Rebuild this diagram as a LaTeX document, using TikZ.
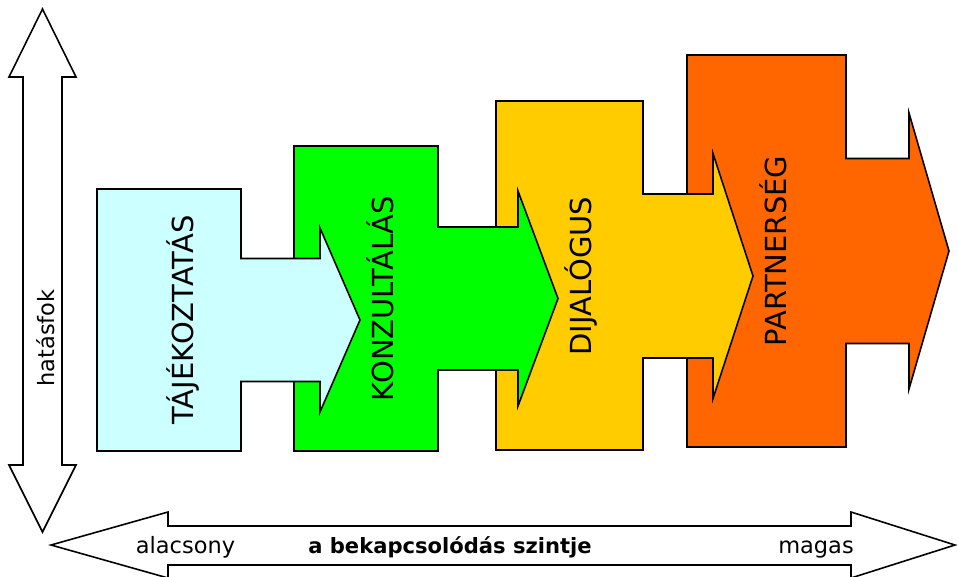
\documentclass[tikz,border=0pt]{standalone}
\usepackage{fontspec}
\setmainfont{DejaVu Sans}
\usepackage{xcolor}
\usepackage{tikz}

\definecolor{infocol}{HTML}{CCFFFF}
\definecolor{conscol}{HTML}{00FF00}
\definecolor{dialcol}{HTML}{FFCC00}
\definecolor{partcol}{HTML}{FF6600}

\begin{document}
\begin{tikzpicture}[
    x=0.02cm, y=-0.02cm,
    stage/.style    = {draw=black, line width=0.9pt, line join=miter},
    stagelbl/.style = {rotate=90, inner sep=0pt,
                       font=\fontsize{16.5}{16.5}\selectfont},
    axis/.style     = {draw=black, fill=white, line width=0.9pt},
    axislbl/.style  = {inner sep=0pt, anchor=base,
                       font=\fontsize{12.8}{12.8}\selectfont}
  ]
  \useasboundingbox (0,0) rectangle (958,576);

  % ----------------------------------------------------------------
  % Stages: block + arrow pointing right, drawn back to front
  % xl/xr = block sides, yt/yb = block top/bottom, xh = head base,
  % xt = tip, yc = axis, sh/hh = shaft and head half heights
  % ----------------------------------------------------------------
  \foreach \xl/\xr/\yt/\yb/\xh/\xt/\yc/\sh/\hh/\col/\nm/\lx/\lbl in {
      687/846/55/447/909/949/251/92.5/138/partcol/part/773/PARTNERSÉG,
      496/643/101/450/713/753/276/82/122.5/dialcol/dial/581/DIJALÓGUS,
      294/438/146/451/518/558/298.5/71.5/107.5/conscol/cons/380/KONZULTÁLÁS,
      97/241/189/451/320/360/320/61.5/92/infocol/info/183/TÁJÉKOZTATÁS}{
    \draw[stage, fill=\col]
          (\xl,\yt) -- (\xr,\yt) -- (\xr,\yc-\sh) -- (\xh,\yc-\sh)
       -- (\xh,\yc-\hh) -- (\xt,\yc) -- (\xh,\yc+\hh) -- (\xh,\yc+\sh)
       -- (\xr,\yc+\sh) -- (\xr,\yb) -- (\xl,\yb) -- cycle;
    \node[stagelbl] (\nm) at (\lx,\yc) {\lbl};
  }

  % ----------------------------------------------------------------
  % Vertical double arrow (left)
  % ----------------------------------------------------------------
  \draw[axis] (42.5,9) -- (76,77) -- (62,77) -- (62,465) -- (76,465)
           -- (42.5,532) -- (9,465) -- (23,465) -- (23,77) -- (9,77) -- cycle;
  \node[axislbl, anchor=center, rotate=90] (eff) at (46,338) {hatásfok};

  % ----------------------------------------------------------------
  % Horizontal double arrow (bottom)
  % ----------------------------------------------------------------
  \draw[axis] (51,545) -- (168,512) -- (168,526) -- (851,526) -- (851,512)
           -- (955,545) -- (851,578) -- (851,565) -- (168,565) -- (168,578) -- cycle;
  \node[axislbl] (low)  at (185.5,553) {alacsony};
  \node[axislbl, font=\fontsize{12}{12}\selectfont\bfseries] (lvl) at (450,553)
        {a bekapcsolódás szintje};
  \node[axislbl] (high) at (816,553) {magas};

\end{tikzpicture}
\end{document}
